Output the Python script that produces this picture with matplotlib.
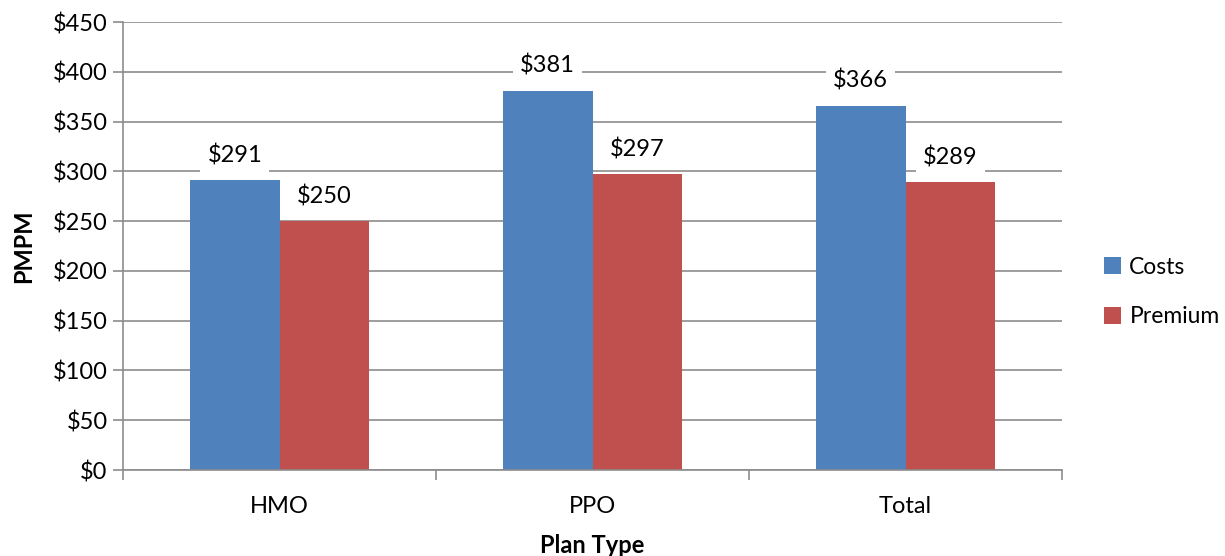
import matplotlib
matplotlib.use("Agg")
import matplotlib.pyplot as plt
import numpy as np
from matplotlib.patches import Patch

categories = ["HMO", "PPO", "Total"]
costs = [291, 381, 366]
premium = [250, 297, 289]
series_names = ["Costs", "Premium"]
y_ticks = [0, 50, 100, 150, 200, 250, 300, 350, 400, 450]

BLUE = "#4F81BD"
RED = "#C0504D"
GRID = "#8C8C8C"
FS = 17

plt.rcParams["font.family"] = ["Lato", "DejaVu Sans"]

fig = plt.figure(figsize=(12.25, 5.56), dpi=100)
ax = fig.add_axes([123 / 1225, (556 - 470) / 556, (1062 - 123) / 1225, (470 - 22) / 556])

x = np.arange(len(categories))
width = 1 / 3.5
b1 = ax.bar(x - width / 2, costs, width, color=BLUE, zorder=2)
b2 = ax.bar(x + width / 2, premium, width, color=RED, zorder=2)

for bars, vals in ((b1, costs), (b2, premium)):
    for rect, v in zip(bars, vals):
        ax.annotate(f"${v}", (rect.get_x() + rect.get_width() / 2, v),
                    xytext=(0, 10), textcoords="offset points",
                    ha="center", va="bottom", fontsize=FS, color="black",
                    bbox=dict(boxstyle="square,pad=0.3", fc="white", ec="none"),
                    zorder=3)

ax.set_xlim(-0.5, len(categories) - 0.5)
ax.set_ylim(0, 450)
ax.set_yticks(y_ticks)
ax.set_yticklabels([f"${t}" for t in y_ticks], fontsize=FS)
ax.set_xticks(x)
ax.set_xticklabels(categories, fontsize=FS)
ax.tick_params(axis="x", length=0, pad=19)
ax.set_xticks(np.arange(len(categories) + 1) - 0.5, minor=True)
ax.tick_params(axis="x", which="minor", length=7, color=GRID, width=1.2)
ax.tick_params(axis="y", length=7, color=GRID, width=1.2, pad=4)

ax.grid(axis="y", color=GRID, linewidth=1.2, zorder=0)
ax.set_axisbelow(True)
for side in ("top", "right"):
    ax.spines[side].set_visible(False)
for side in ("left", "bottom"):
    ax.spines[side].set_color(GRID)
    ax.spines[side].set_linewidth(1.2)

ax.set_ylabel("PMPM", fontsize=FS, fontweight="bold", labelpad=13)
ax.set_xlabel("Plan Type", fontsize=FS, fontweight="bold", labelpad=12)

handles = [Patch(facecolor=BLUE), Patch(facecolor=RED)]
fig.legend(handles, series_names, loc="center left",
           bbox_to_anchor=(1095 / 1225, (556 - 292) / 556),
           frameon=False, fontsize=16.5, handlelength=0.75, handleheight=0.75,
           handletextpad=0.35, labelspacing=1.25, borderaxespad=0)

fig.savefig("out.png", dpi=100, facecolor="white")
